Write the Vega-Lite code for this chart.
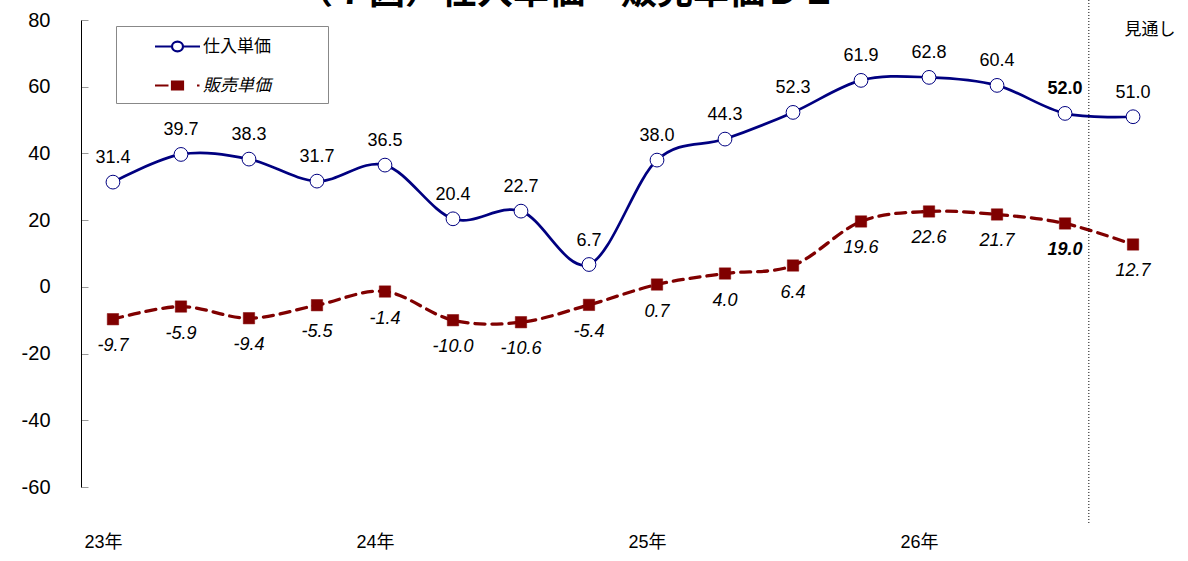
{
  "$schema": "https://vega.github.io/schema/vega-lite/v6.json",
  "width": 1084,
  "height": 467,
  "autosize": {"type": "none"},
  "padding": {"left": 81, "top": 20, "right": 23, "bottom": 74},
  "background": "white",
  "title": {
    "text": "（７図）仕入単価・販売単価ＤＩ",
    "anchor": "start",
    "frame": "group",
    "dx": 216,
    "dy": 41,
    "offset": 0,
    "baseline": "alphabetic",
    "fontSize": 36,
    "fontWeight": "bold",
    "font": "Noto Sans CJK JP",
    "color": "black"
  },
  "config": {
    "view": {"stroke": null},
    "font": "Liberation Sans, Noto Sans CJK JP"
  },
  "datasets": {
    "di": [
      {"q": 1, "series": "仕入単価", "value": 31.4},
      {"q": 2, "series": "仕入単価", "value": 39.7},
      {"q": 3, "series": "仕入単価", "value": 38.3},
      {"q": 4, "series": "仕入単価", "value": 31.7},
      {"q": 5, "series": "仕入単価", "value": 36.5},
      {"q": 6, "series": "仕入単価", "value": 20.4},
      {"q": 7, "series": "仕入単価", "value": 22.7},
      {"q": 8, "series": "仕入単価", "value": 6.7},
      {"q": 9, "series": "仕入単価", "value": 38.0},
      {"q": 10, "series": "仕入単価", "value": 44.3},
      {"q": 11, "series": "仕入単価", "value": 52.3},
      {"q": 12, "series": "仕入単価", "value": 61.9},
      {"q": 13, "series": "仕入単価", "value": 62.8},
      {"q": 14, "series": "仕入単価", "value": 60.4},
      {"q": 15, "series": "仕入単価", "value": 52.0},
      {"q": 16, "series": "仕入単価", "value": 51.0},
      {"q": 1, "series": "販売単価", "value": -9.7},
      {"q": 2, "series": "販売単価", "value": -5.9},
      {"q": 3, "series": "販売単価", "value": -9.4},
      {"q": 4, "series": "販売単価", "value": -5.5},
      {"q": 5, "series": "販売単価", "value": -1.4},
      {"q": 6, "series": "販売単価", "value": -10.0},
      {"q": 7, "series": "販売単価", "value": -10.6},
      {"q": 8, "series": "販売単価", "value": -5.4},
      {"q": 9, "series": "販売単価", "value": 0.7},
      {"q": 10, "series": "販売単価", "value": 4.0},
      {"q": 11, "series": "販売単価", "value": 6.4},
      {"q": 12, "series": "販売単価", "value": 19.6},
      {"q": 13, "series": "販売単価", "value": 22.6},
      {"q": 14, "series": "販売単価", "value": 21.7},
      {"q": 15, "series": "販売単価", "value": 19.0},
      {"q": 16, "series": "販売単価", "value": 12.7}
    ],
    "notes": [
      {"forecast_boundary": 15.35, "note": "見通し", "note_q": 16.25, "note_value": 77}
    ]
  },
  "layer": [
    {
      "data": {"name": "di"},
      "transform": [{"filter": "datum.series === '仕入単価'"}],
      "mark": {"type": "line", "interpolate": "cardinal", "strokeWidth": 2.7},
      "encoding": {
        "x": {
          "field": "q",
          "type": "quantitative",
          "scale": {"domain": [0.53, 16.47], "nice": false, "zero": false},
          "axis": {
            "title": null,
            "values": [1, 5, 9, 13],
            "labelExpr": "(22 + (datum.value + 3) / 4) + '年'",
            "domain": false,
            "ticks": false,
            "grid": false,
            "labelPadding": 55,
            "labelBaseline": "middle",
            "labelOffset": -10,
            "labelFontSize": 18,
            "labelColor": "black",
            "labelFont": "Liberation Sans, Noto Sans CJK JP"
          }
        },
        "y": {
          "field": "value",
          "type": "quantitative",
          "scale": {"domain": [-60, 80], "nice": false, "zero": false},
          "axis": {
            "title": null,
            "values": [-60, -40, -20, 0, 20, 40, 60, 80],
            "labelExpr": "replace(datum.label, '\u2212', '-')",
            "grid": false,
            "domainColor": "black",
            "domainWidth": 1,
            "tickColor": "#999999",
            "tickSize": -7,
            "labelPadding": 38,
            "labelFontSize": 20,
            "labelColor": "black",
            "labelFont": "Liberation Sans"
          }
        },
        "color": {
          "field": "series",
          "type": "nominal",
          "scale": {"domain": ["仕入単価", "販売単価"], "range": ["#000080", "#800000"]},
          "legend": {
            "orient": "none",
            "legendX": 35,
            "legendY": 6,
            "title": null,
            "direction": "vertical",
            "strokeColor": "#888888",
            "fillColor": "white",
            "padding": 9,
            "symbolSize": 400,
            "symbolOffset": 41,
            "labelOffset": 14,
            "rowPadding": 18,
            "labelFontSize": 17,
            "labelColor": "black",
            "labelFont": "Noto Sans CJK JP",
            "encode": {
              "symbols": {
                "update": {
                  "shape": {"signal": "datum.value === '仕入単価' ? 'M-2.25,0H-0.55M0.55,0H2.25M-0.55,0A0.55,0.48 0 1,0 0.55,0A0.55,0.48 0 1,0 -0.55,0Z' : 'M-2.25,0H-0.9M-0.55,-0.4H0.55V0.4H-0.55ZM1.95,0H2.2'"},
                  "fill": {"signal": "datum.value === '仕入単価' ? 'white' : '#800000'"},
                  "stroke": {"signal": "datum.value === '仕入単価' ? '#000080' : '#800000'"},
                  "strokeWidth": {"value": 2.2},
                  "opacity": {"value": 1}
                }
              },
              "labels": {
                "update": {
                  "text": {"signal": "datum.label + '\u2800\u2800\u2800\u2800'"},
                  "fontStyle": {"signal": "datum.value === '販売単価' ? 'italic' : 'normal'"}
                }
              }
            }
          }
        }
      }
    },
    {
      "data": {"name": "di"},
      "transform": [{"filter": "datum.series === '販売単価'"}],
      "mark": {"type": "line", "interpolate": "cardinal", "strokeWidth": 3.3, "strokeDash": [10, 7], "strokeCap": "round"},
      "encoding": {
        "x": {"field": "q", "type": "quantitative"},
        "y": {"field": "value", "type": "quantitative"},
        "color": {"field": "series", "type": "nominal"}
      }
    },
    {
      "data": {"name": "notes"},
      "mark": {"type": "rule", "stroke": "black", "strokeWidth": 1, "strokeDash": [1, 2], "clip": false},
      "encoding": {
        "x": {"field": "forecast_boundary", "type": "quantitative"},
        "y": {"datum": 86, "type": "quantitative"},
        "y2": {"datum": -71.4}
      }
    },
    {
      "data": {"name": "notes"},
      "mark": {"type": "text", "fontSize": 17, "font": "Noto Sans CJK JP", "color": "black", "clip": false},
      "encoding": {
        "x": {"field": "note_q", "type": "quantitative"},
        "y": {"field": "note_value", "type": "quantitative"},
        "text": {"field": "note"}
      }
    },
    {
      "data": {"name": "di"},
      "transform": [{"filter": "datum.series === '仕入単価'"}],
      "mark": {"type": "point", "shape": "circle", "filled": true, "fill": "white", "stroke": "#000080", "strokeWidth": 1, "size": 190, "opacity": 1},
      "encoding": {
        "x": {"field": "q", "type": "quantitative"},
        "y": {"field": "value", "type": "quantitative"}
      }
    },
    {
      "data": {"name": "di"},
      "transform": [{"filter": "datum.series === '販売単価'"}],
      "mark": {"type": "point", "shape": "square", "filled": true, "fill": "#800000", "stroke": "#800000", "strokeWidth": 0.5, "size": 130, "opacity": 1},
      "encoding": {
        "x": {"field": "q", "type": "quantitative"},
        "y": {"field": "value", "type": "quantitative"}
      }
    },
    {
      "data": {"name": "di"},
      "transform": [
        {"filter": "datum.series === '仕入単価'"},
        {"calculate": "replace(format(datum.value, '.1f'), '\u2212', '-')", "as": "label"}
      ],
      "mark": {"type": "text", "dy": -24, "fontSize": 18, "font": "Liberation Sans", "color": "black", "baseline": "middle", "fontWeight": {"expr": "datum.q === 15 ? 'bold' : 'normal'"}},
      "encoding": {
        "x": {"field": "q", "type": "quantitative"},
        "y": {"field": "value", "type": "quantitative"},
        "text": {"field": "label"}
      }
    },
    {
      "data": {"name": "di"},
      "transform": [
        {"filter": "datum.series === '販売単価'"},
        {"calculate": "replace(format(datum.value, '.1f'), '\u2212', '-')", "as": "label"}
      ],
      "mark": {"type": "text", "dy": 27, "fontSize": 18, "font": "Liberation Sans", "fontStyle": "italic", "color": "black", "baseline": "middle", "fontWeight": {"expr": "datum.q === 15 ? 'bold' : 'normal'"}},
      "encoding": {
        "x": {"field": "q", "type": "quantitative"},
        "y": {"field": "value", "type": "quantitative"},
        "text": {"field": "label"}
      }
    }
  ]
}
